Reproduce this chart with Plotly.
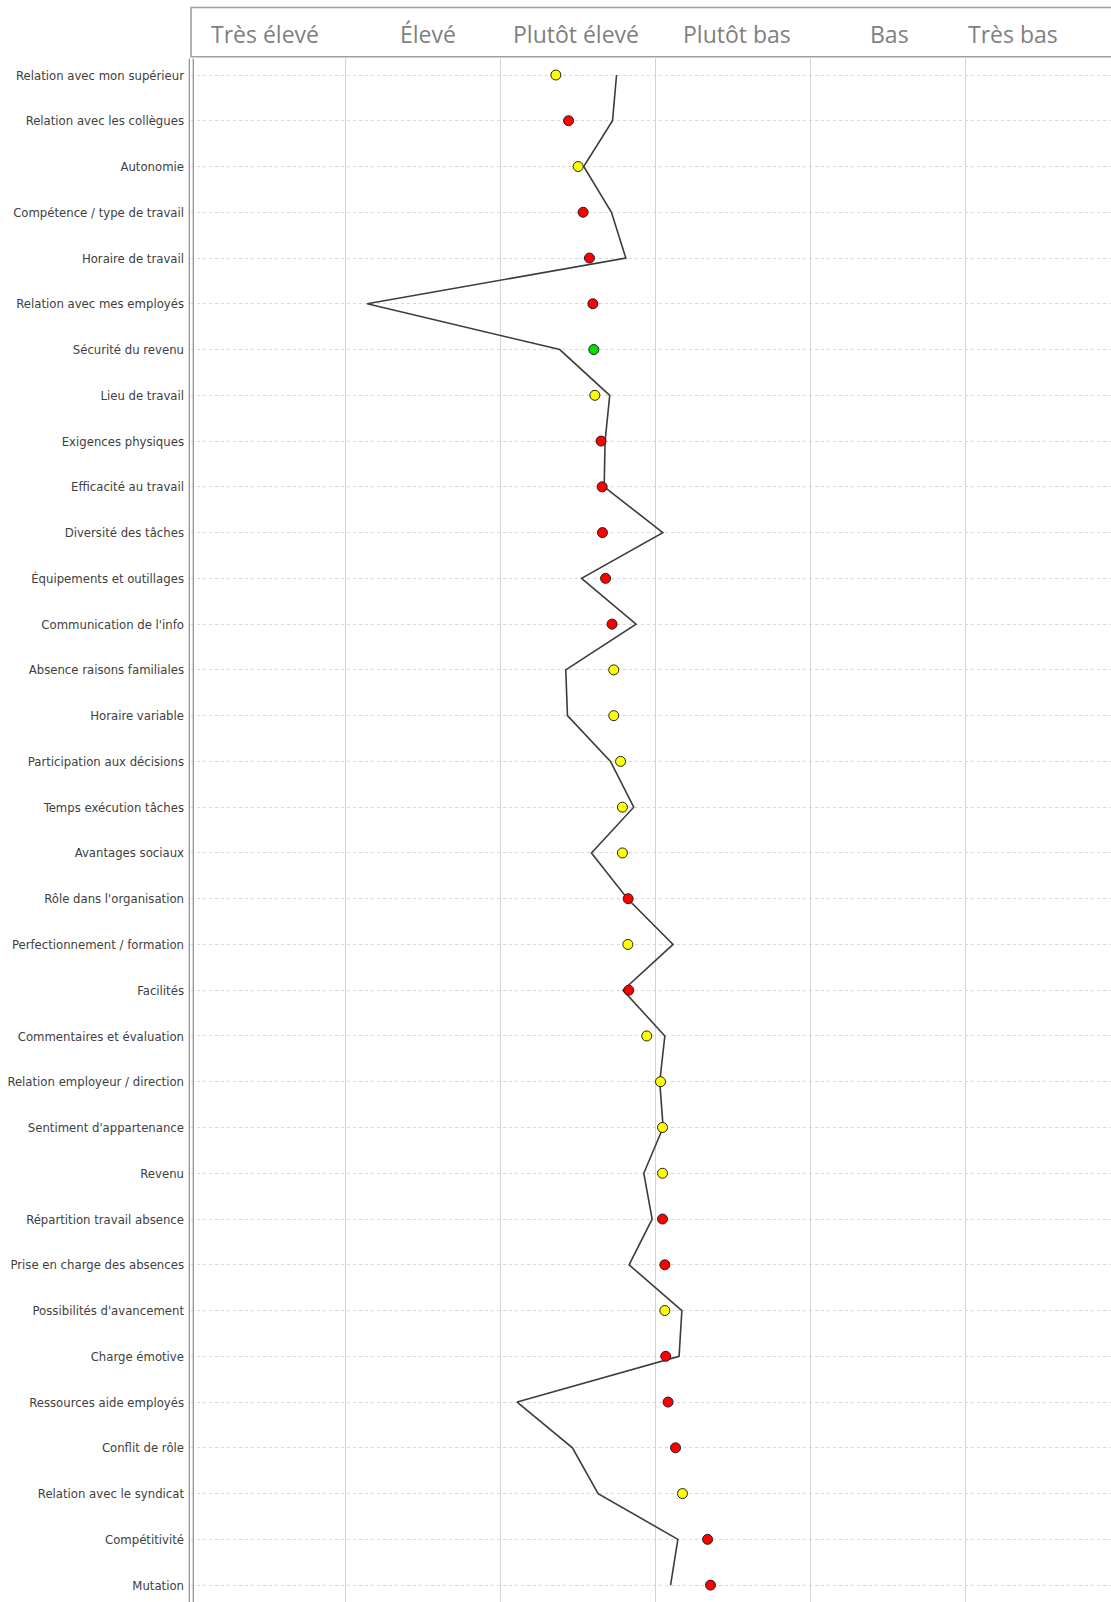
import plotly.graph_objects as go

categories = [
    "Relation avec mon supérieur", "Relation avec les collègues", "Autonomie",
    "Compétence / type de travail", "Horaire de travail", "Relation avec mes employés",
    "Sécurité du revenu", "Lieu de travail", "Exigences physiques",
    "Efficacité au travail", "Diversité des tâches", "Équipements et outillages",
    "Communication de l'info", "Absence raisons familiales", "Horaire variable",
    "Participation aux décisions", "Temps exécution tâches", "Avantages sociaux",
    "Rôle dans l'organisation", "Perfectionnement / formation", "Facilités",
    "Commentaires et évaluation", "Relation employeur / direction",
    "Sentiment d'appartenance", "Revenu", "Répartition travail absence",
    "Prise en charge des absences", "Possibilités d'avancement", "Charge émotive",
    "Ressources aide employés", "Conflit de rôle", "Relation avec le syndicat",
    "Compétitivité", "Mutation",
]

# position of the dots (0 = left edge, 1 unit = one column)
dot_values = [
    2.357, 2.439, 2.501, 2.533, 2.574, 2.596, 2.602, 2.609, 2.649, 2.656,
    2.658, 2.678, 2.720, 2.731, 2.731, 2.775, 2.787, 2.787, 2.824, 2.822,
    2.828, 2.944, 3.033, 3.046, 3.046, 3.046, 3.061, 3.061, 3.067, 3.082,
    3.130, 3.175, 3.337, 3.356,
]

dot_colors = [
    "yellow", "red", "yellow", "red", "red", "red", "green", "yellow", "red", "red",
    "red", "red", "red", "yellow", "yellow", "yellow", "yellow", "yellow", "red", "yellow",
    "red", "yellow", "yellow", "yellow", "yellow", "red", "red", "yellow", "red", "red",
    "red", "yellow", "red", "red",
]

line_values = [
    2.749, 2.723, 2.537, 2.716, 2.809, 1.138, 2.382, 2.705, 2.675, 2.669,
    3.048, 2.523, 2.875, 2.421, 2.432, 2.710, 2.860, 2.587, 2.820, 3.114,
    2.791, 3.061, 3.028, 3.050, 2.925, 2.979, 2.830, 3.171, 3.153, 2.107,
    2.464, 2.630, 3.145, 3.098,
]

column_labels = ["Très élevé", "Élevé", "Plutôt élevé", "Plutôt bas", "Bas", "Très bas"]
column_label_pos = [0.477, 1.53, 2.486, 3.526, 4.514, 5.308]

color_map = {"yellow": "#ffff00", "red": "#ff0000", "green": "#00e000"}

W, H = 1111, 1602
L, T = 191, 58
plot_h = H - T
rows_y = list(range(len(categories)))

fig = go.Figure()
fig.add_trace(go.Scatter(
    x=line_values, y=rows_y, mode="lines",
    line=dict(color="#3c3c3c", width=1.6), hoverinfo="skip", showlegend=False,
))
fig.add_trace(go.Scatter(
    x=dot_values, y=rows_y, mode="markers",
    marker=dict(size=10, color=[color_map[c] for c in dot_colors],
                line=dict(color="#202020", width=1)),
    showlegend=False,
))

def py(ypx):
    return (H - ypx) / plot_h

shapes = []
# header box
shapes.append(dict(type="rect", xref="paper", yref="paper",
                   x0=0, x1=1.02, y0=py(56.7), y1=py(7.5),
                   line=dict(color="#a0a0a0", width=1.6), fillcolor="white", layer="above"))
# double left axis line
for xp in (189.3, 193.3):
    xf = (xp - L) / (W - L)
    shapes.append(dict(type="line", xref="paper", yref="paper",
                       x0=xf, x1=xf, y0=0, y1=py(58.5),
                       line=dict(color="#8c8c8c", width=1.2)))

annotations = []
for lab, pos in zip(column_labels, column_label_pos):
    annotations.append(dict(x=pos, xref="x", y=py(34), yref="paper",
                            text=lab, showarrow=False, xanchor="center", yanchor="middle",
                            font=dict(family="Open Sans", size=23, color="#7f7f7f")))

fig.update_layout(
    width=W, height=H,
    margin=dict(l=L, r=0, t=T, b=0, pad=0),
    plot_bgcolor="white", paper_bgcolor="white",
    shapes=shapes, annotations=annotations,
    xaxis=dict(range=[0, (W - L) / 154.8], tickvals=[1, 2, 3, 4, 5],
               showticklabels=False, showgrid=True, gridcolor="#d4d4d4", gridwidth=1,
               zeroline=False, showline=False, fixedrange=True),
    yaxis=dict(range=[33 + (H - 1585.1) / 45.76, -(75 - T) / 45.76],
               tickvals=rows_y, ticktext=categories,
               showgrid=True, gridcolor="#d8d8d8", griddash="dot", gridwidth=1,
               zeroline=False, showline=False, ticks="", ticklabelstandoff=6,
               tickfont=dict(family="'DejaVu Sans Condensed', 'Liberation Sans Narrow', 'Roboto Condensed', Roboto, sans-serif",
                             size=13, color="#404040"),
               fixedrange=True),
)

fig.write_html("out.html", config={"displayModeBar": False},
               post_script="document.body.style.margin='0';document.body.style.overflow='hidden';")
